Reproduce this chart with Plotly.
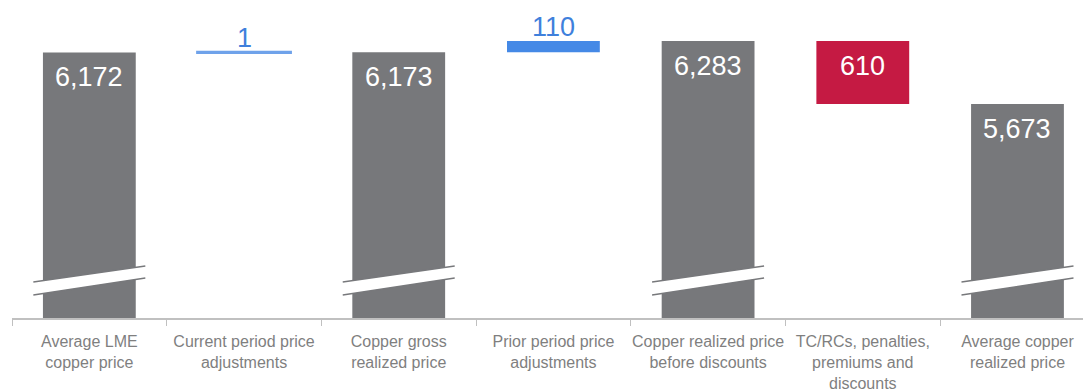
import plotly.graph_objects as go

# ---- data ----
categories = [
    "Average LME<br>copper price",
    "Current period price<br>adjustments",
    "Copper gross<br>realized price",
    "Prior period price<br>adjustments",
    "Copper realized price<br>before discounts",
    "TC/RCs, penalties,<br>premiums and<br>discounts",
    "Average copper<br>realized price",
]
measures = ["total", "increase", "total", "increase", "total", "decrease", "total"]
values = [6172, 1, 6173, 110, 6283, 610, 5673]
labels = ["6,172", "1", "6,173", "110", "6,283", "610", "5,673"]

# ---- styles ----
GRAY = "#77787b"
BLUE = "#4589e6"
LIGHT_BLUE = "#6fa2ea"
RED = "#c51a43"
TEXT_BLUE = "#3f80dc"
Y_RANGE = [3600, 6602]
FONT = "Arial, Liberation Sans, sans-serif"

bases, heights, colors, line_colors, line_widths = [], [], [], [], []
running = 0
for m, v in zip(measures, values):
    if m == "total":
        bases.append(Y_RANGE[0] - 500)
        heights.append(v - (Y_RANGE[0] - 500))
        colors.append(GRAY)
        line_colors.append(GRAY)
        line_widths.append(0)
        running = v
    elif m == "increase":
        bases.append(running)
        heights.append(v)
        c = LIGHT_BLUE if v < 20 else BLUE
        colors.append(c)
        line_colors.append(c)
        line_widths.append(3 if v < 20 else 0)
        running += v
    else:
        bases.append(running - v)
        heights.append(v)
        colors.append(RED)
        line_colors.append(RED)
        line_widths.append(0)
        running -= v

x_idx = list(range(len(categories)))

fig = go.Figure()
fig.add_trace(go.Bar(
    x=x_idx, y=heights, base=bases, width=0.6,
    marker=dict(color=colors, line=dict(color=line_colors, width=line_widths)),
    hoverinfo="skip", showlegend=False,
))

# value labels
annotations = []
for i, (m, b, h, lab) in enumerate(zip(measures, bases, heights, labels)):
    top = b + h
    if m == "increase":
        annotations.append(dict(x=i, y=top, text=lab, showarrow=False, xref="x", yref="y",
                                yanchor="middle", yshift=14,
                                font=dict(family=FONT, size=27, color=TEXT_BLUE)))
    else:
        annotations.append(dict(x=i, y=top, text=lab, showarrow=False, xref="x", yref="y",
                                yanchor="middle", yshift=-25,
                                font=dict(family=FONT, size=27, color="white")))

# axis-break marks on the total bars
shapes = []
HALF = 0.362
UL, UR, LL, LR = 3949, 4104, 3823, 3987
for i, m in enumerate(measures):
    if m != "total":
        continue
    x0, x1 = i - HALF, i + HALF
    shapes.append(dict(type="path", xref="x", yref="y",
                       path=f"M {x0},{LL} L {x1},{LR} L {x1},{UR} L {x0},{UL} Z",
                       fillcolor="white", line=dict(width=0)))
    shapes.append(dict(type="line", xref="x", yref="y", x0=x0, y0=UL, x1=x1, y1=UR,
                       line=dict(color=GRAY, width=1.5)))
    shapes.append(dict(type="line", xref="x", yref="y", x0=x0, y0=LL, x1=x1, y1=LR,
                       line=dict(color=GRAY, width=1.5)))

fig.update_layout(
    width=1091, height=392,
    margin=dict(l=4, r=0, t=0, b=82),
    paper_bgcolor="white", plot_bgcolor="white",
    bargap=0.4,
    annotations=annotations,
    shapes=shapes,
    xaxis=dict(
        type="category",
        tickmode="array", tickvals=x_idx, ticktext=categories,
        range=[-0.5, 6.527],
        showgrid=False, zeroline=False,
        showline=True, linecolor="#c0c0c0", linewidth=1.5,
        ticks="outside", tickson="boundaries", ticklen=6, tickcolor="#c0c0c0",
        tickfont=dict(family=FONT, size=16, color="#7f7f7f"),
        tickangle=0, automargin=False,
        ticklabelstandoff=8,
    ),
    yaxis=dict(range=Y_RANGE, visible=False, showgrid=False, zeroline=False),
)

fig.write_html("out.html")
